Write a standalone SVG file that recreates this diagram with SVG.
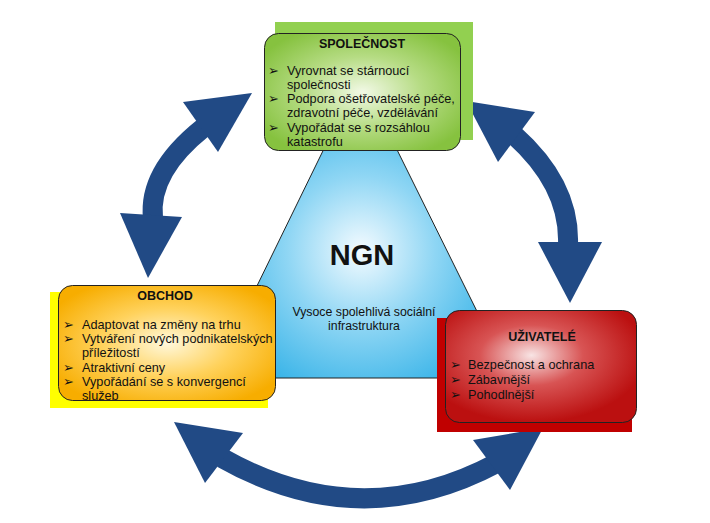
<svg xmlns="http://www.w3.org/2000/svg" width="710" height="523" viewBox="0 0 710 523">
<defs>
<radialGradient id="gTri" cx="0.5" cy="0.58" r="0.55">
<stop offset="0" stop-color="#f4fbff"/>
<stop offset="0.45" stop-color="#8fd6f4"/>
<stop offset="1" stop-color="#2aaee6"/>
</radialGradient>
<radialGradient id="gGreen" cx="0.5" cy="0.5" r="0.6">
<stop offset="0" stop-color="#f2f9e6"/>
<stop offset="0.5" stop-color="#b6dc84"/>
<stop offset="1" stop-color="#86c23f"/>
</radialGradient>
<radialGradient id="gOrange" cx="0.5" cy="0.5" r="0.6">
<stop offset="0" stop-color="#fff8dc"/>
<stop offset="0.5" stop-color="#ffd25c"/>
<stop offset="1" stop-color="#f7ad00"/>
</radialGradient>
<radialGradient id="gRed" cx="0.45" cy="0.4" r="0.6">
<stop offset="0" stop-color="#f8e4e4"/>
<stop offset="0.45" stop-color="#d85454"/>
<stop offset="1" stop-color="#bb1010"/>
</radialGradient>
</defs>
<style>
text{font-family:"Liberation Sans",Arial,sans-serif;fill:#111}
.t{font-size:12.5px;font-weight:bold;text-anchor:middle}
.b{font-size:12.7px}
.bl{font-family:"DejaVu Sans",sans-serif;font-size:13px;font-weight:bold}
.box{stroke:#222;stroke-width:1}
.arr{fill:#214a85}
.shaft{fill:none;stroke:#214a85;stroke-width:20}
</style>
<rect width="710" height="523" fill="#fff"/>

<g id="ngn">
<polygon points="360,75 212,378 510,378" fill="url(#gTri)" stroke="#222" stroke-width="1"/>
<text x="362" y="265" style="font-size:29px;font-weight:bold;text-anchor:middle">NGN</text>
<text x="364" y="316" style="font-size:12.3px;text-anchor:middle">Vysoce spolehlivá sociální</text>
<text x="364" y="330" style="font-size:12.3px;text-anchor:middle">infrastruktura</text>
</g>

<g id="connectors">
<path class="shaft" d="M153,218 Q148,172 203,128"/>
<polygon class="arr" points="252,93 183,102 218,152"/>
<polygon class="arr" points="148,278 120,213 182,217"/>
<path class="shaft" d="M514,135 Q570,185 568,244"/>
<polygon class="arr" points="466,101 535,112 498,162"/>
<polygon class="arr" points="570,303 538,242 602,242"/>
<path class="shaft" d="M222,458 Q360,536 497,463"/>
<polygon class="arr" points="174,422 243,433 205,483"/>
<polygon class="arr" points="543,428 473,440 510,490"/>
</g>

<g id="spolecnost">
<rect x="275" y="22" width="198" height="118" fill="#92d050"/>
<rect class="box" x="264.5" y="33.5" width="196" height="117" rx="14" fill="url(#gGreen)"/>
<text class="t" x="362" y="48">SPOLEČNOST</text>
<text class="bl" x="268" y="75">➢</text>
<text class="b" x="287" y="75">Vyrovnat se stárnoucí</text>
<text class="b" x="287" y="89">společnosti</text>
<text class="bl" x="268" y="103">➢</text>
<text class="b" x="287" y="103">Podpora ošetřovatelské péče,</text>
<text class="b" x="287" y="117">zdravotní péče, vzdělávání</text>
<text class="bl" x="268" y="132">➢</text>
<text class="b" x="287" y="132">Vypořádat se s rozsáhlou</text>
<text class="b" x="287" y="146">katastrofu</text>
</g>

<g id="obchod">
<rect x="50" y="292" width="218" height="116" fill="#ffff00"/>
<rect class="box" x="58.5" y="285.5" width="217" height="115" rx="14" fill="url(#gOrange)"/>
<text class="t" x="165" y="300">OBCHOD</text>
<text class="bl" x="63" y="329">➢</text>
<text class="b" x="82" y="329">Adaptovat na změny na trhu</text>
<text class="bl" x="63" y="343">➢</text>
<text class="b" x="82" y="343">Vytváření nových podnikatelských</text>
<text class="b" x="82" y="357">příležitostí</text>
<text class="bl" x="63" y="372">➢</text>
<text class="b" x="82" y="372">Atraktivní ceny</text>
<text class="bl" x="63" y="386">➢</text>
<text class="b" x="82" y="386">Vypořádání se s konvergencí</text>
<text class="b" x="82" y="400">služeb</text>
</g>

<g id="uzivatele">
<rect x="437" y="318" width="195" height="114" fill="#c00000"/>
<rect class="box" x="445.5" y="310.5" width="191" height="112" rx="14" fill="url(#gRed)"/>
<text class="t" x="542" y="341">UŽIVATELÉ</text>
<text class="bl" x="450" y="369">➢</text>
<text class="b" x="468" y="369">Bezpečnost a ochrana</text>
<text class="bl" x="450" y="384">➢</text>
<text class="b" x="468" y="384">Zábavnější</text>
<text class="bl" x="450" y="399">➢</text>
<text class="b" x="468" y="399">Pohodlnější</text>
</g>
</svg>
